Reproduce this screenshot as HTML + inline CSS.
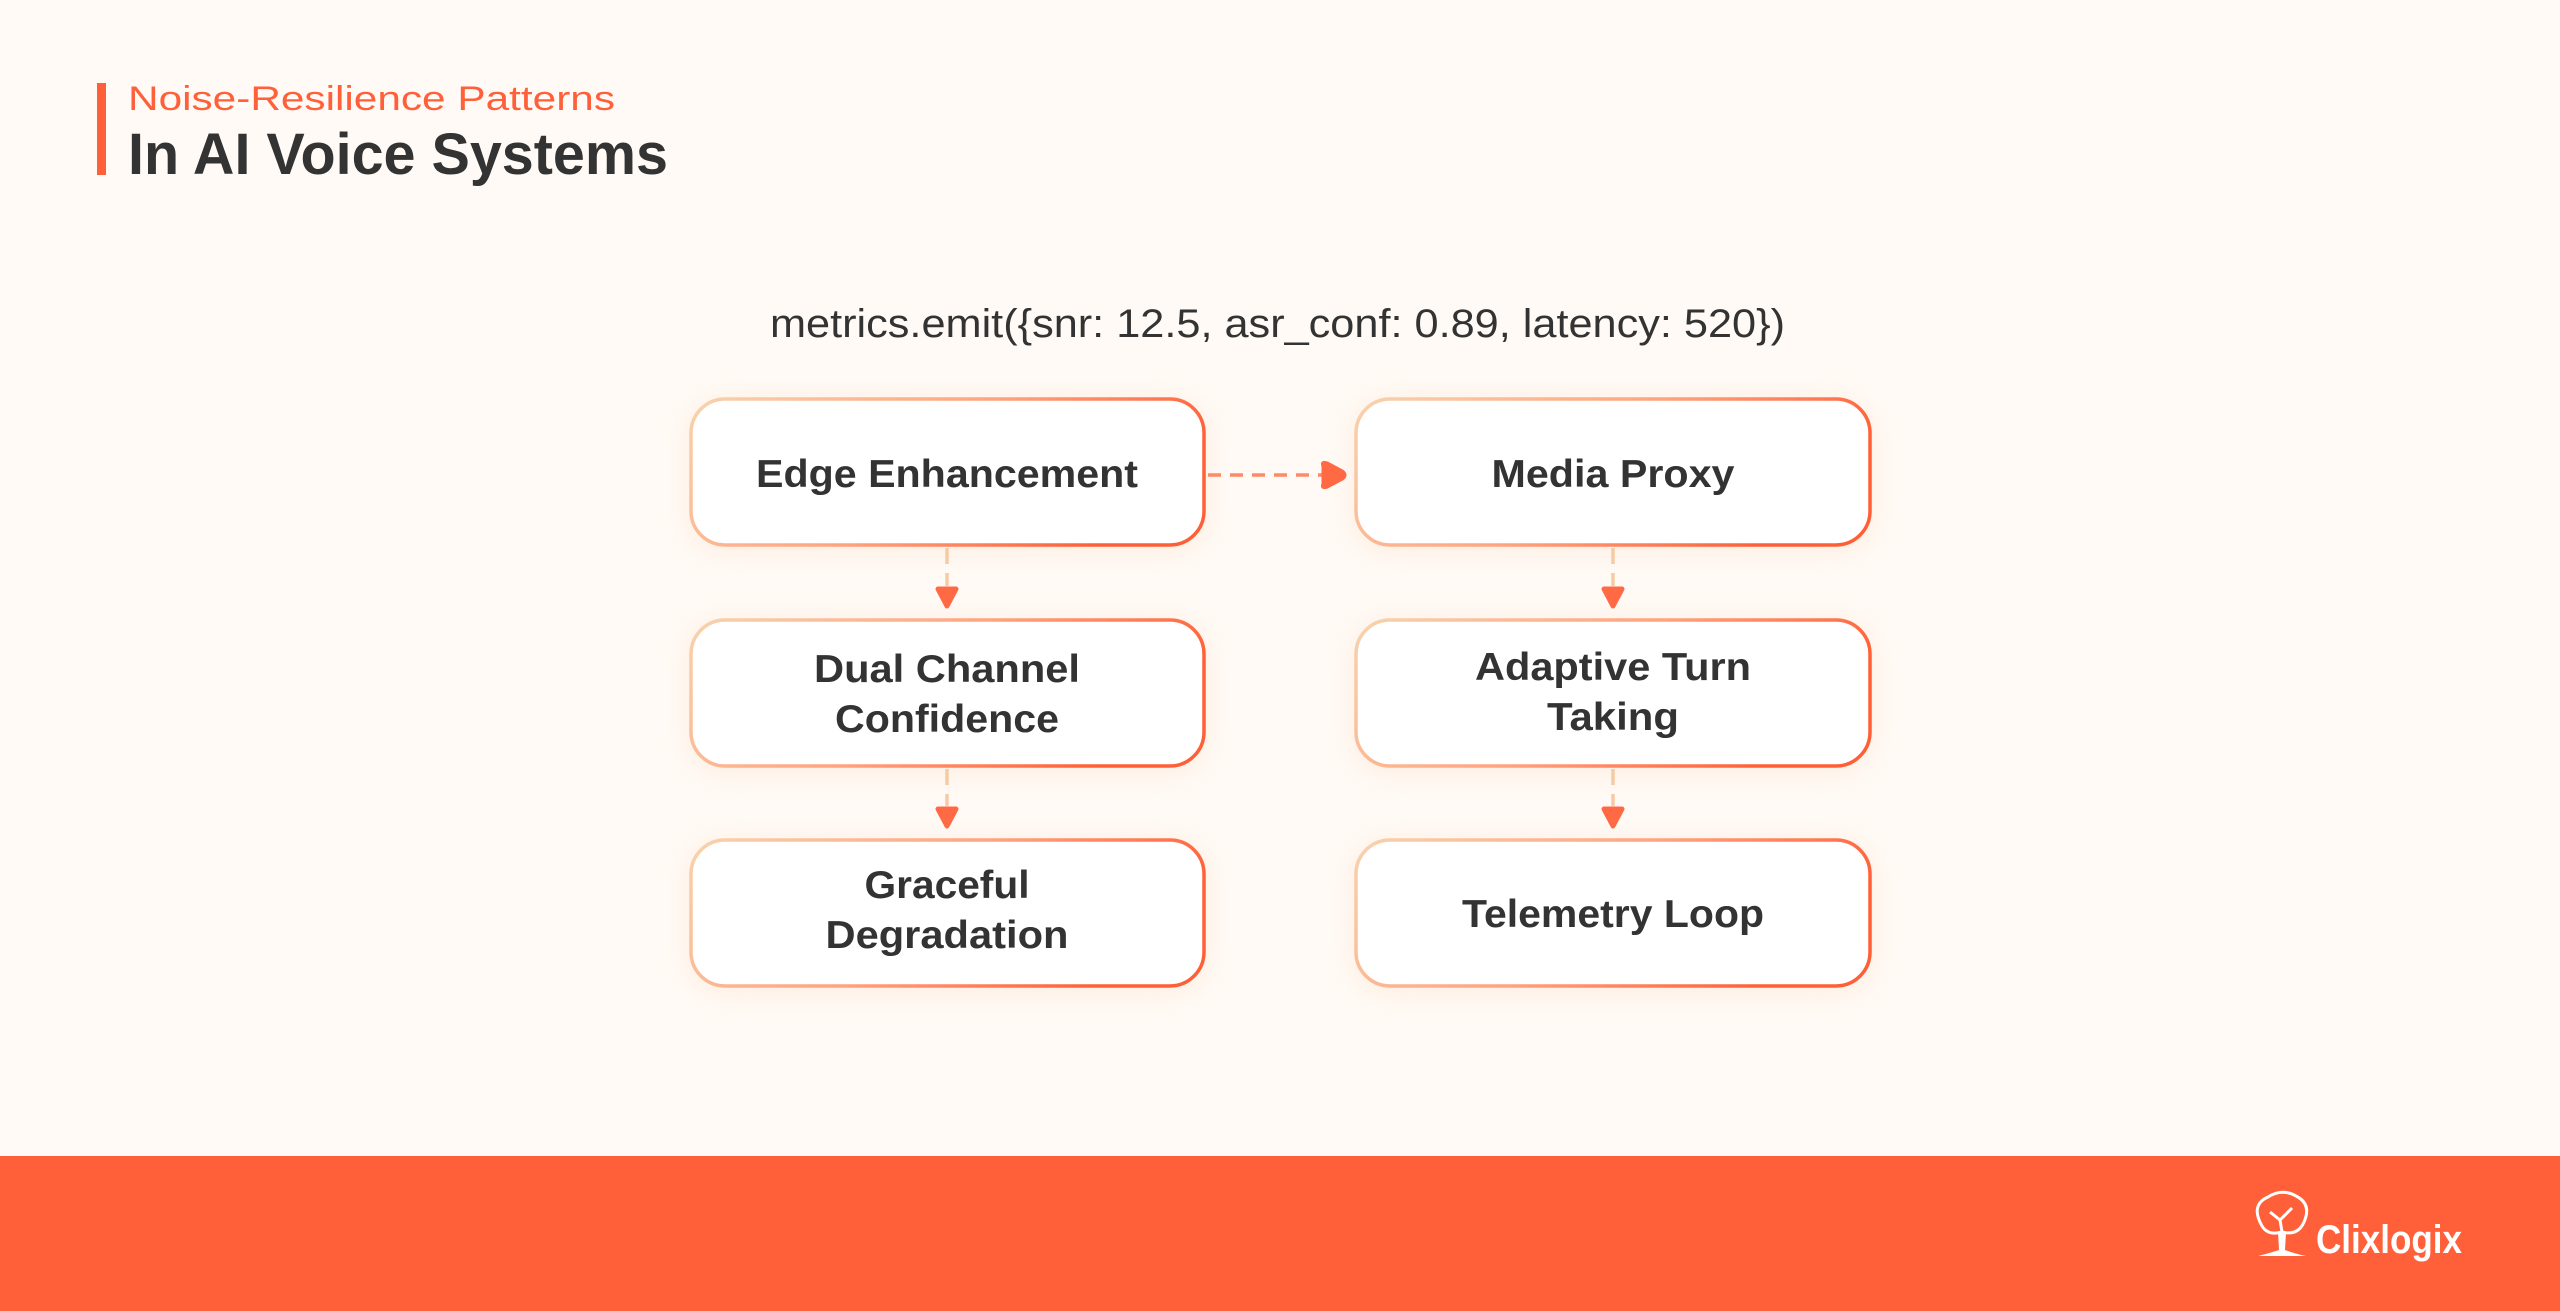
<!DOCTYPE html>
<html><head><meta charset="utf-8"><style>
html,body{margin:0;padding:0;background:#fffaf5;}
svg{display:block}
</style></head><body>
<svg width="2560" height="1311" viewBox="0 0 2560 1311" xmlns="http://www.w3.org/2000/svg" font-family="Liberation Sans, sans-serif">
<defs>
<linearGradient id="bd" x1="0" y1="0" x2="1" y2="0.3">
<stop offset="0" stop-color="#f7d3ae"/><stop offset="0.55" stop-color="#ffa27e"/><stop offset="1" stop-color="#ff5f36"/>
</linearGradient>
<filter id="sh" x="-20%" y="-40%" width="140%" height="180%"><feGaussianBlur stdDeviation="14"/></filter>
</defs>
<rect width="2560" height="1311" fill="#fffaf5"/>
<rect x="97" y="83" width="9" height="92" fill="#ff6039"/>
<text x="128" y="110" font-size="34" fill="#ff6039" textLength="487" lengthAdjust="spacingAndGlyphs">Noise-Resilience Patterns</text>
<text x="128" y="174" font-size="58" font-weight="bold" fill="#333" textLength="540" lengthAdjust="spacingAndGlyphs">In AI Voice Systems</text>
<text x="770" y="337" font-size="40" fill="#333" textLength="1015" lengthAdjust="spacingAndGlyphs">metrics.emit({snr: 12.5, asr_conf: 0.89, latency: 520})</text>

<g fill="#fde8d8" opacity="0.8" filter="url(#sh)">
<rect x="690" y="402" width="515" height="148" rx="34"/><rect x="1355" y="402" width="516" height="148" rx="34"/>
<rect x="690" y="623" width="515" height="148" rx="34"/><rect x="1355" y="623" width="516" height="148" rx="34"/>
<rect x="690" y="843" width="515" height="148" rx="34"/><rect x="1355" y="843" width="516" height="148" rx="34"/>
</g>
<g fill="#fff" stroke="url(#bd)" stroke-width="3.5">
<rect x="691" y="399" width="513" height="146" rx="34"/><rect x="1356" y="399" width="514" height="146" rx="34"/>
<rect x="691" y="620" width="513" height="146" rx="34"/><rect x="1356" y="620" width="514" height="146" rx="34"/>
<rect x="691" y="840" width="513" height="146" rx="34"/><rect x="1356" y="840" width="514" height="146" rx="34"/>
</g>

<!-- connectors -->
<line x1="1208" y1="475" x2="1322" y2="475" stroke="#ff8a66" stroke-width="3.5" stroke-dasharray="13 9"/>
<path d="M1324 466 Q1322 462 1327 464 L1342 472 Q1346 475 1342 478 L1327 486 Q1322 488 1324 484 Z" fill="#ff6a45" stroke="#ff6a45" stroke-width="5" stroke-linejoin="round"/>
<g stroke="#f6cba4" stroke-width="3.5" stroke-dasharray="16 9">
<line x1="947" y1="548" x2="947" y2="586"/><line x1="947" y1="769" x2="947" y2="806"/>
<line x1="1613" y1="548" x2="1613" y2="586"/><line x1="1613" y1="769" x2="1613" y2="806"/>
</g>
<g fill="#ff6a45" stroke="#ff6a45" stroke-width="5" stroke-linejoin="round">
<path d="M938 589 L956 589 L947 606 Z"/><path d="M938 809 L956 809 L947 826 Z"/>
<path d="M1604 589 L1622 589 L1613 606 Z"/><path d="M1604 809 L1622 809 L1613 826 Z"/>
</g>

<g font-size="39" font-weight="bold" fill="#333" text-anchor="middle">
<text x="947" y="487" textLength="382" lengthAdjust="spacingAndGlyphs">Edge Enhancement</text>
<text x="1613" y="487" textLength="243" lengthAdjust="spacingAndGlyphs">Media Proxy</text>
<text x="947" y="682" textLength="266" lengthAdjust="spacingAndGlyphs">Dual Channel</text>
<text x="947" y="732" textLength="224" lengthAdjust="spacingAndGlyphs">Confidence</text>
<text x="1613" y="680" textLength="276" lengthAdjust="spacingAndGlyphs">Adaptive Turn</text>
<text x="1613" y="730" textLength="132" lengthAdjust="spacingAndGlyphs">Taking</text>
<text x="947" y="898" textLength="165" lengthAdjust="spacingAndGlyphs">Graceful</text>
<text x="947" y="948" textLength="243" lengthAdjust="spacingAndGlyphs">Degradation</text>
<text x="1613" y="927" textLength="302" lengthAdjust="spacingAndGlyphs">Telemetry Loop</text>
</g>

<rect x="0" y="1156" width="2560" height="155" fill="#ff6039"/>
<g fill="none" stroke="#fff" stroke-width="3">
<path d="M2262 1226 Q2250 1205 2268 1197 Q2282 1188 2296 1196 Q2312 1204 2304 1222 Q2298 1236 2282 1232 Q2268 1236 2262 1226 Z"/>
<path d="M2270 1212 L2280 1220 L2292 1208 M2280 1220 L2282 1232"/>
</g>
<path d="M2278 1232 L2286 1232 L2285 1250 Q2296 1254 2306 1256 L2258 1256 Q2270 1253 2279 1250 Z" fill="#fff"/>
<text x="2316" y="1253" font-size="40" font-weight="bold" fill="#fff" textLength="146" lengthAdjust="spacingAndGlyphs">Clixlogix</text>
</svg>
</body></html>
